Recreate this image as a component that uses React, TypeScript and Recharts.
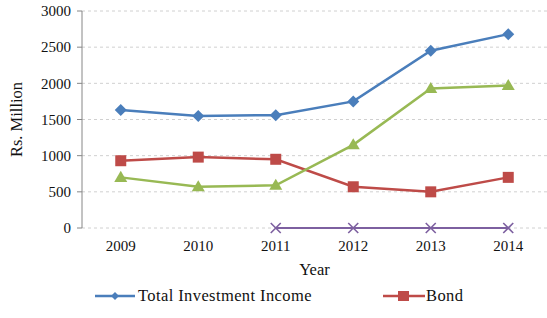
import React from 'react';
import { LineChart, Line, XAxis, YAxis, CartesianGrid, Legend } from 'recharts';

const years = [2009, 2010, 2011, 2012, 2013, 2014];
const totalInvestmentIncome = [1630, 1550, 1560, 1750, 2450, 2680];
const bond = [930, 980, 950, 570, 500, 700];
const greenSeries = [700, 570, 590, 1150, 1930, 1970];
const purpleSeries: (number | null)[] = [null, null, 0, 0, 0, 0];
const yTicks = [0, 500, 1000, 1500, 2000, 2500, 3000];
const boundaryTicks = [2009.5, 2010.5, 2011.5, 2012.5, 2013.5];

const data = years.map((y, i) => ({
  year: y,
  total: totalInvestmentIncome[i],
  bond: bond[i],
  green: greenSeries[i],
  purple: purpleSeries[i],
}));

const BLUE = '#4a7ebb';
const RED = '#be4b48';
const GREEN = '#98b954';
const PURPLE = '#7d60a0';
const FONT = '"Liberation Serif", "Times New Roman", serif';

const Diamond = (p: any) => {
  const { cx, cy } = p;
  if (cx == null || cy == null) return null;
  const r = 6;
  return <path key={p.index} d={`M${cx},${cy - r}L${cx + r},${cy}L${cx},${cy + r}L${cx - r},${cy}Z`} fill={BLUE} />;
};
const Square = (p: any) => {
  const { cx, cy } = p;
  if (cx == null || cy == null) return null;
  const r = 5.5;
  return <rect key={p.index} x={cx - r} y={cy - r} width={2 * r} height={2 * r} fill={RED} />;
};
const Triangle = (p: any) => {
  const { cx, cy } = p;
  if (cx == null || cy == null) return null;
  const r = 6.5;
  return <path key={p.index} d={`M${cx},${cy - r}L${cx + r},${cy + r * 0.7}L${cx - r},${cy + r * 0.7}Z`} fill={GREEN} />;
};
const Cross = (p: any) => {
  const { cx, cy, value } = p;
  if (cx == null || cy == null || value == null) return null;
  const r = 5;
  return (
    <path key={p.index} d={`M${cx - r},${cy - r}L${cx + r},${cy + r}M${cx + r},${cy - r}L${cx - r},${cy + r}`} stroke={PURPLE} strokeWidth={1.6} fill="none" />
  );
};

const EmptyTick = () => <g />;

const LegendContent = () => (
  <div style={{ position: 'relative', height: 24, fontFamily: FONT, fontSize: 16.5, color: '#111' }}>
    <svg width={547} height={24} style={{ position: 'absolute', left: 0, top: 0 }}>
      <line x1={95} y1={12} x2={135} y2={12} stroke={BLUE} strokeWidth={2.5} />
      <path d="M115,8L119,12L115,16L111,12Z" fill={BLUE} />
      <line x1={383} y1={12} x2={425} y2={12} stroke={RED} strokeWidth={2.5} />
      <rect x={398} y={7} width={11} height={10} fill={RED} />
      <text x={138} y={17} fontFamily={FONT} fontSize={16.5} fill="#111" letterSpacing={0.4}>Total Investment Income</text>
      <text x={426} y={17} fontFamily={FONT} fontSize={16.5} fill="#111" letterSpacing={0.4}>Bond</text>
    </svg>
  </div>
);

export default function App() {
  return (
    <div style={{ position: 'absolute', left: 0, top: 0, width: 547, height: 318, background: '#fff' }}>
      <LineChart width={547} height={318} data={data} margin={{ top: 11, right: 0, bottom: 0, left: 0 }}>
        <CartesianGrid vertical={false} stroke="#d0d0d0" strokeDasharray="3 3" />
        <XAxis
          xAxisId="edges"
          type="number"
          dataKey="year"
          domain={[2008.5, 2014.5]}
          ticks={boundaryTicks}
          tick={<EmptyTick />}
          tickLine={{ stroke: '#868686' }}
          tickSize={5}
          height={0}
          stroke="#868686"
          allowDataOverflow
        />
        <XAxis
          xAxisId="main"
          type="number"
          dataKey="year"
          domain={[2008.5, 2014.5]}
          ticks={years}
          tickLine={false}
          axisLine={false}
          height={66}
          tickMargin={6}
          tick={{ fontFamily: FONT, fontSize: 15, fill: '#111' }}
          label={{ value: 'Year', position: 'insideBottom', offset: 19, fontFamily: FONT, fontSize: 16.5, fill: '#111' }}
          allowDataOverflow
        />
        <YAxis
          width={82}
          domain={[0, 3000]}
          ticks={yTicks}
          tickSize={5}
          tickMargin={6}
          stroke="#868686"
          tick={{ fontFamily: FONT, fontSize: 15, fill: '#111' }}
          label={{ value: 'Rs. Million', angle: -90, position: 'insideLeft', offset: 16, fontFamily: FONT, fontSize: 16.5, fill: '#111', style: { textAnchor: 'middle' } }}
        />
        <Legend verticalAlign="bottom" content={<LegendContent />} wrapperStyle={{ left: 0, top: 284, width: 547 }} />
        <Line xAxisId="main" dataKey="total" stroke={BLUE} strokeWidth={2.5} dot={Diamond} isAnimationActive={false} />
        <Line xAxisId="main" dataKey="bond" stroke={RED} strokeWidth={2.5} dot={Square} isAnimationActive={false} />
        <Line xAxisId="main" dataKey="green" stroke={GREEN} strokeWidth={2.5} dot={Triangle} isAnimationActive={false} />
        <Line xAxisId="main" dataKey="purple" stroke={PURPLE} strokeWidth={2} dot={Cross} isAnimationActive={false} />
      </LineChart>
    </div>
  );
}
